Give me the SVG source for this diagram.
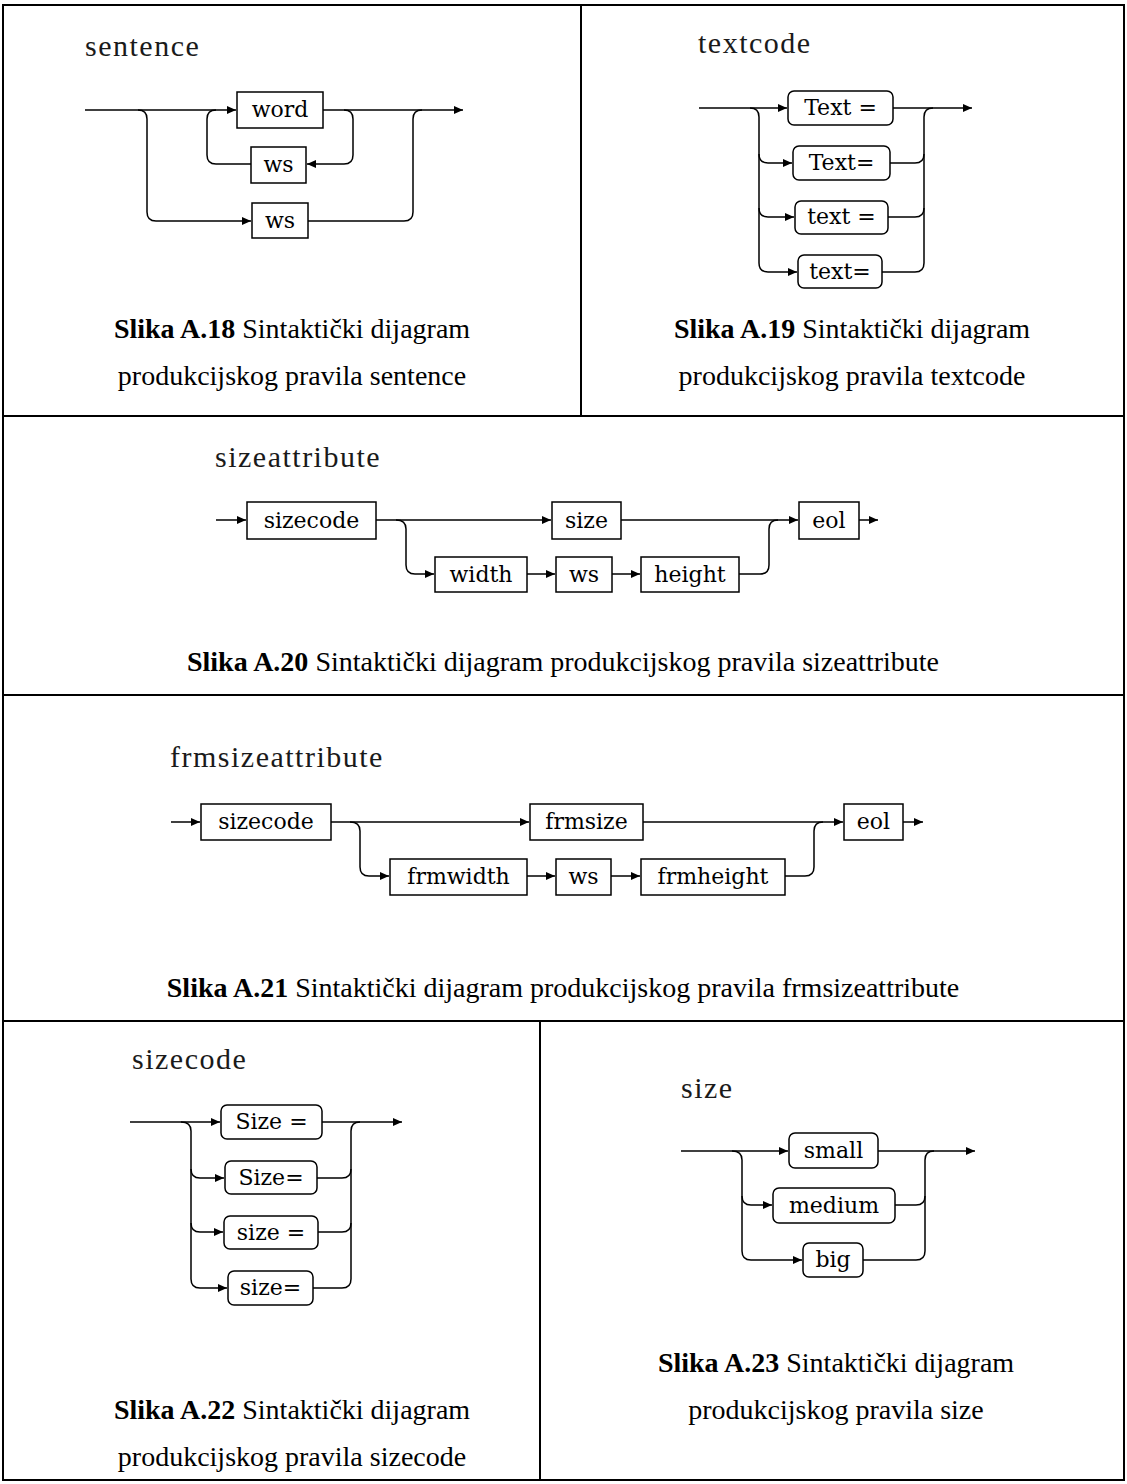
<svg xmlns="http://www.w3.org/2000/svg" width="1127" height="1484" viewBox="0 0 1127 1484">
<style>
.grid{stroke:#000;stroke-width:2;fill:none}
.box{fill:#fff;stroke:#000;stroke-width:1.5}
.lbl{font-family:"DejaVu Serif",serif;font-size:22px;fill:#000;text-anchor:middle}
.title{font-family:"Liberation Serif","Times New Roman",serif;font-size:30px;letter-spacing:1.5px;fill:#1a1a1a}
.cap{font-family:"Liberation Serif","Times New Roman",serif;font-size:28px;fill:#000;text-anchor:middle}
.cap tspan.b{font-weight:bold}
.c{fill:none;stroke:#000;stroke-width:1.5}
.a{marker-end:url(#arr)}
</style>
<defs>
<marker id="arr" markerUnits="userSpaceOnUse" markerWidth="10" markerHeight="9" refX="9" refY="4.5" orient="auto">
<path d="M0,0.5 L9,4.5 L0,8.5 z" fill="#000"/>
</marker>
</defs>
<rect width="1127" height="1484" fill="#fff"/>
<g id="table">
<rect class="grid" x="3" y="5" width="1121" height="1475"/>
<line class="grid" x1="3" y1="416" x2="1124" y2="416"/>
<line class="grid" x1="3" y1="695" x2="1124" y2="695"/>
<line class="grid" x1="3" y1="1021" x2="1124" y2="1021"/>
<line class="grid" x1="581" y1="5" x2="581" y2="416"/>
<line class="grid" x1="540" y1="1021" x2="540" y2="1480"/>
</g>

<!-- sentence -->
<text class="title" x="85" y="56">sentence</text>
<g id="connectors-sentence">
<path class="c a" d="M85,110 H236"/>
<path class="c a" d="M323,110 H463"/>
<path class="c a" d="M138,110 Q147,110 147,119 V212 Q147,221 156,221 H251"/>
<path class="c" d="M308,221 H404 Q413,221 413,212 V119 Q413,110 422,110"/>
<path class="c a" d="M344,110 Q353,110 353,119 V155 Q353,164 344,164 H307"/>
<path class="c" d="M251,164 H216 Q207,164 207,155 V119 Q207,110 216,110"/>
</g>
<g id="s-word"><rect class="box" x="237" y="92" width="86" height="36"/><text class="lbl" x="280" y="117">word</text></g>
<g id="s-ws1"><rect class="box" x="251" y="147" width="55" height="36"/><text class="lbl" x="278.5" y="172">ws</text></g>
<g id="s-ws2"><rect class="box" x="252" y="203" width="56" height="35"/><text class="lbl" x="280" y="228">ws</text></g>
<text class="cap" x="292" y="338"><tspan class="b">Slika A.18</tspan> Sintaktički dijagram</text>
<text class="cap" x="292" y="385">produkcijskog pravila sentence</text>

<!-- textcode -->
<text class="title" x="698" y="53">textcode</text>
<g id="connectors-textcode">
<path class="c a" d="M699,108 H787"/>
<path class="c a" d="M893,108 H972"/>
<path class="c a" d="M750,108 Q759,108 759,117 V263 Q759,272 768,272 H797"/>
<path class="c a" d="M759,154 Q759,163 768,163 H792"/>
<path class="c a" d="M759,208 Q759,217 768,217 H794"/>
<path class="c" d="M882,272 H915 Q924,272 924,263 V117 Q924,108 933,108"/>
<path class="c" d="M890,163 H915 Q924,163 924,154"/>
<path class="c" d="M888,217 H915 Q924,217 924,208"/>
</g>
<g id="t-1"><rect class="box" x="788" y="91" width="105" height="34" rx="6"/><text class="lbl" x="840.5" y="115">Text =</text></g>
<g id="t-2"><rect class="box" x="793" y="146" width="97" height="34" rx="6"/><text class="lbl" x="841.5" y="170">Text=</text></g>
<g id="t-3"><rect class="box" x="795" y="201" width="93" height="33" rx="6"/><text class="lbl" x="841.5" y="224">text =</text></g>
<g id="t-4"><rect class="box" x="798" y="255" width="84" height="33" rx="6"/><text class="lbl" x="840" y="279">text=</text></g>
<text class="cap" x="852" y="338"><tspan class="b">Slika A.19</tspan> Sintaktički dijagram</text>
<text class="cap" x="852" y="385">produkcijskog pravila textcode</text>

<!-- sizeattribute -->
<text class="title" x="215" y="467">sizeattribute</text>
<g id="connectors-sizeattribute">
<path class="c a" d="M216,520 H246"/>
<path class="c a" d="M376,520 H551"/>
<path class="c a" d="M621,520 H798"/>
<path class="c a" d="M859,520 H878"/>
<path class="c a" d="M396,520 Q406,520 406,529 V565 Q406,574 415,574 H434"/>
<path class="c a" d="M527,574 H555"/>
<path class="c a" d="M612,574 H640"/>
<path class="c" d="M739,574 H760 Q769,574 769,565 V529 Q769,520 778,520"/>
</g>
<g id="sa-sizecode"><rect class="box" x="247" y="502" width="129" height="37"/><text class="lbl" x="311.5" y="528">sizecode</text></g>
<g id="sa-size"><rect class="box" x="552" y="502" width="69" height="37"/><text class="lbl" x="586.5" y="528">size</text></g>
<g id="sa-eol"><rect class="box" x="799" y="502" width="60" height="37"/><text class="lbl" x="829" y="528">eol</text></g>
<g id="sa-width"><rect class="box" x="435" y="557" width="92" height="35"/><text class="lbl" x="481" y="582">width</text></g>
<g id="sa-ws"><rect class="box" x="556" y="557" width="56" height="35"/><text class="lbl" x="584" y="582">ws</text></g>
<g id="sa-height"><rect class="box" x="641" y="557" width="98" height="35"/><text class="lbl" x="690" y="582">height</text></g>
<text class="cap" x="563" y="671"><tspan class="b">Slika A.20</tspan> Sintaktički dijagram produkcijskog pravila sizeattribute</text>

<!-- frmsizeattribute -->
<text class="title" x="170" y="767">frmsizeattribute</text>
<g id="connectors-frmsizeattribute">
<path class="c a" d="M171,822 H200"/>
<path class="c a" d="M331,822 H529"/>
<path class="c a" d="M643,822 H843"/>
<path class="c a" d="M903,822 H923"/>
<path class="c a" d="M350,822 Q360,822 360,831 V867 Q360,876 369,876 H389"/>
<path class="c a" d="M527,876 H555"/>
<path class="c a" d="M611,876 H640"/>
<path class="c" d="M785,876 H805 Q814,876 814,867 V831 Q814,822 823,822"/>
</g>
<g id="fa-sizecode"><rect class="box" x="201" y="804" width="130" height="36"/><text class="lbl" x="266" y="829">sizecode</text></g>
<g id="fa-frmsize"><rect class="box" x="530" y="804" width="113" height="36"/><text class="lbl" x="586.5" y="829">frmsize</text></g>
<g id="fa-eol"><rect class="box" x="844" y="804" width="59" height="36"/><text class="lbl" x="873.5" y="829">eol</text></g>
<g id="fa-frmwidth"><rect class="box" x="390" y="859" width="137" height="36"/><text class="lbl" x="458.5" y="884">frmwidth</text></g>
<g id="fa-ws"><rect class="box" x="556" y="859" width="55" height="36"/><text class="lbl" x="583.5" y="884">ws</text></g>
<g id="fa-frmheight"><rect class="box" x="641" y="859" width="144" height="36"/><text class="lbl" x="713" y="884">frmheight</text></g>
<text class="cap" x="563" y="997"><tspan class="b">Slika A.21</tspan> Sintaktički dijagram produkcijskog pravila frmsizeattribute</text>

<!-- sizecode -->
<text class="title" x="132" y="1069">sizecode</text>
<g id="connectors-sizecode">
<path class="c a" d="M130,1122 H220"/>
<path class="c a" d="M322,1122 H402"/>
<path class="c a" d="M181,1122 Q191,1122 191,1131 V1279 Q191,1288 200,1288 H227"/>
<path class="c a" d="M191,1169 Q191,1178 200,1178 H224"/>
<path class="c a" d="M191,1223 Q191,1232 200,1232 H223"/>
<path class="c" d="M313,1288 H342 Q351,1288 351,1279 V1131 Q351,1122 360,1122"/>
<path class="c" d="M317,1178 H342 Q351,1178 351,1169"/>
<path class="c" d="M318,1232 H342 Q351,1232 351,1223"/>
</g>
<g id="sc-1"><rect class="box" x="221" y="1105" width="101" height="34" rx="6"/><text class="lbl" x="271.5" y="1129">Size =</text></g>
<g id="sc-2"><rect class="box" x="225" y="1161" width="92" height="33" rx="6"/><text class="lbl" x="271" y="1185">Size=</text></g>
<g id="sc-3"><rect class="box" x="224" y="1216" width="94" height="33" rx="6"/><text class="lbl" x="271" y="1240">size =</text></g>
<g id="sc-4"><rect class="box" x="228" y="1271" width="85" height="34" rx="6"/><text class="lbl" x="270.5" y="1295">size=</text></g>
<text class="cap" x="292" y="1419"><tspan class="b">Slika A.22</tspan> Sintaktički dijagram</text>
<text class="cap" x="292" y="1466">produkcijskog pravila sizecode</text>

<!-- size -->
<text class="title" x="681" y="1098">size</text>
<g id="connectors-size">
<path class="c a" d="M681,1151 H788"/>
<path class="c a" d="M878,1151 H975"/>
<path class="c a" d="M732,1151 Q742,1151 742,1160 V1251 Q742,1260 751,1260 H802"/>
<path class="c a" d="M742,1196 Q742,1205 751,1205 H772"/>
<path class="c" d="M863,1260 H916 Q925,1260 925,1251 V1160 Q925,1151 934,1151"/>
<path class="c" d="M895,1205 H916 Q925,1205 925,1196"/>
</g>
<g id="z-small"><rect class="box" x="789" y="1133" width="89" height="35" rx="6"/><text class="lbl" x="833.5" y="1158">small</text></g>
<g id="z-medium"><rect class="box" x="773" y="1188" width="122" height="35" rx="6"/><text class="lbl" x="834" y="1213">medium</text></g>
<g id="z-big"><rect class="box" x="803" y="1243" width="60" height="34" rx="6"/><text class="lbl" x="833" y="1267">big</text></g>
<text class="cap" x="836" y="1372"><tspan class="b">Slika A.23</tspan> Sintaktički dijagram</text>
<text class="cap" x="836" y="1419">produkcijskog pravila size</text>
</svg>
